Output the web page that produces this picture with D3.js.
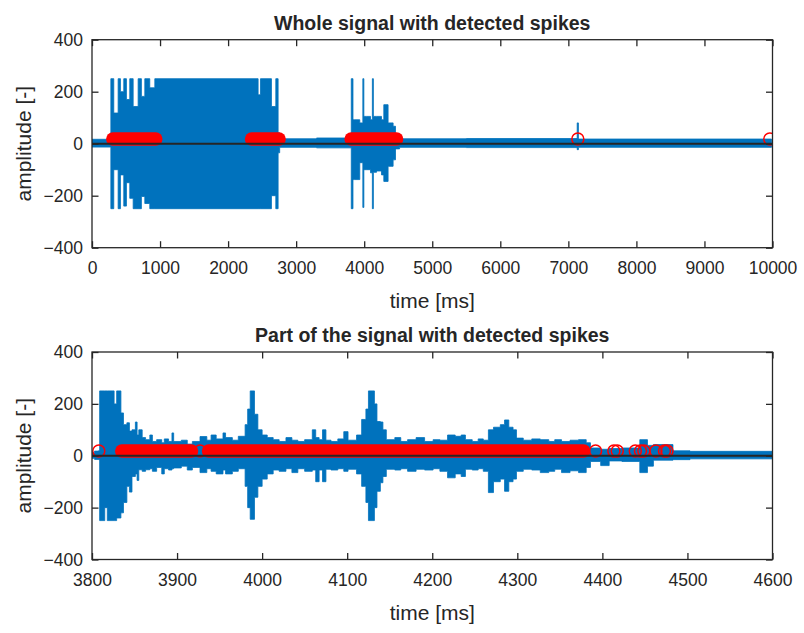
<!DOCTYPE html>
<html><head><meta charset="utf-8">
<script src="https://cdn.jsdelivr.net/npm/d3@7"></script>
<style>
body{margin:0;background:#fff}
svg{display:block}
text{font-family:"Liberation Sans",Arial,Helvetica,sans-serif;fill:#262626}
</style>
</head><body>
<svg id="c" width="804" height="633"></svg>
<script>
// ---------- DATA ----------
const titles = ["Whole signal with detected spikes", "Part of the signal with detected spikes"];
const xLabel = "time [ms]";
const yLabel = "amplitude [-]";
const wholeXTicks = [0,1000,2000,3000,4000,5000,6000,7000,8000,9000,10000];
const partXTicks = [3800,3900,4000,4100,4200,4300,4400,4500,4600];
const yTicks = [-400,-200,0,200,400];
const threshold = 18;

// whole signal envelope: [time ms, upper, lower] (step)
const wholeTime  = [0,277,320,384,418,467,506,555,605,678,726,776,849,923,2441,2476,2637,2701,2735,2758,3300,3810,3835,3862,3935,3980,3995,4034,4093,4120,4135,4181,4254,4288,4351,4425,4460,4520,5500,7130,7148,9985];
const wholeUpper = [17,250,118,250,200,250,170,250,143,250,182,250,215,250,188,250,143,250,42,19,22,250,92,92,80,250,105,105,92,250,105,105,92,150,80,67,30,19,20,80,18,18];
const wholeLower = [-13,-250,-100,-250,-120,-240,-150,-210,-250,-250,-203,-230,-250,-250,-250,-250,-200,-250,-35,-14,-16,-250,-138,-138,-73,-245,-100,-100,-112,-250,-110,-105,-120,-145,-87,-62,-20,-14,-15,-23,-14,-14];
// detected spikes in whole signal: dense runs [start,end] and isolated times
const wholeSpikeRuns = [[306,937],[2345,2749],[3808,4476]];
const wholeSpikeTimes = [7139,9960];

// part of signal envelope (3800-4600 ms)
const partTime  = [3800,3803,3808,3809,3815,3818,3826,3829,3834,3837,3841,3844,3847,3851,3853,3855,3859,3863,3868,3871,3876,3882,3885,3890,3894,3896,3905,3912,3918,3927,3935,3940,3946,3954,3957,3965,3972,3980,3983,3986,3991,3995,4000,4006,4013,4020,4028,4035,4042,4050,4059,4063,4067,4071,4075,4081,4089,4096,4101,4111,4117,4122,4125,4132,4135,4139,4142,4146,4156,4163,4171,4181,4191,4201,4209,4218,4227,4234,4239,4247,4254,4260,4266,4272,4280,4285,4290,4295,4299,4307,4317,4327,4337,4344,4352,4362,4372,4381,4386,4398,4408,4423,4444,4453,4460,4483,4503,4600];
const partUpper = [12,18,20,250,250,250,200,250,165,120,127,95,100,130,80,100,70,62,80,55,62,50,65,55,88,55,60,45,55,74,60,80,65,88,70,60,75,120,180,250,160,100,80,70,62,55,70,60,55,62,100,70,62,100,60,55,65,93,60,80,140,180,250,200,132,130,100,62,70,55,62,70,55,62,60,80,75,80,62,55,65,60,100,110,120,138,110,100,68,60,65,62,55,62,55,60,62,50,30,25,28,30,62,40,43,19,17,17];
const partLower = [-10,-14,-15,-250,-200,-250,-250,-240,-220,-180,-118,-140,-80,-70,-95,-54,-60,-54,-50,-60,-45,-70,-50,-55,-50,-47,-40,-55,-45,-65,-50,-60,-70,-55,-70,-60,-50,-118,-200,-245,-160,-118,-90,-70,-55,-60,-50,-65,-50,-60,-55,-100,-55,-100,-52,-55,-50,-60,-52,-70,-118,-180,-250,-200,-137,-104,-80,-52,-55,-50,-60,-52,-55,-50,-60,-85,-70,-80,-52,-55,-50,-60,-142,-100,-90,-137,-100,-90,-60,-52,-55,-65,-60,-52,-65,-58,-65,-45,-22,-38,-20,-22,-65,-40,-17,-15,-12,-12];
const partSpikeRuns = [[3835,3917],[3937,4378]];
const partSpikeTimes = [3808,3927,4392,4413.5,4417.5,4438.7,4444.8,4448.8,4462.9,4473,4476];

// ---------- DRAW ----------
const svg = d3.select("#c");
const left = 92, right = 772.5;
const blue = "#0072BD", frame = "#262626";

function panel(cfg){
  const g = svg.append("g");
  const x = d3.scaleLinear().domain(cfg.xDomain).range([left,right]);
  const y = d3.scaleLinear().domain([-400,400]).range([cfg.bottom,cfg.top]);

  const data = cfg.time.map((t,i)=>({t,hi:cfg.upper[i],lo:cfg.lower[i]}));
  const area = d3.area().curve(d3.curveStepAfter)
    .x(d=>x(d.t)).y0(d=>y(d.lo)).y1(d=>y(d.hi));
  const clipId = "clip"+cfg.id;
  svg.append("clipPath").attr("id",clipId).append("rect")
    .attr("x",left).attr("y",cfg.top).attr("width",right-left).attr("height",cfg.bottom-cfg.top);
  const plot = g.append("g").attr("clip-path",`url(#${clipId})`);
  plot.append("path").datum(data).attr("d",area).attr("fill",blue).attr("stroke",blue).attr("stroke-width",0.8);

  // detected spikes: dense runs as overlapping circles, isolated as circles
  const r = 6;
  plot.selectAll(".run").data(cfg.runs).join("line")
    .attr("x1",d=>x(d[0])).attr("x2",d=>x(d[1]))
    .attr("y1",y(threshold)).attr("y2",y(threshold))
    .attr("stroke","#FF0000").attr("stroke-width",2*r+1.5).attr("stroke-linecap","round");
  plot.selectAll(".pt").data(cfg.points).join("circle")
    .attr("cx",d=>x(d)).attr("cy",y(threshold)).attr("r",r)
    .attr("fill","none").attr("stroke","#FF0000").attr("stroke-width",1.5);

  // zero line
  plot.append("line").attr("x1",left).attr("x2",right)
    .attr("y1",y(0)).attr("y2",y(0)).attr("stroke",frame).attr("stroke-width",2);

  // axes
  const tl = 6.5;
  const ax = g.append("g").attr("transform",`translate(0,${cfg.bottom})`)
    .call(d3.axisBottom(x).tickValues(cfg.xTicks).tickSizeInner(-tl).tickSizeOuter(0).tickPadding(14).tickFormat(d3.format("d")));
  const axT = g.append("g").attr("transform",`translate(0,${cfg.top})`)
    .call(d3.axisTop(x).tickValues(cfg.xTicks).tickSizeInner(-tl).tickSizeOuter(0).tickFormat(""));
  const ay = g.append("g").attr("transform",`translate(${left},0)`)
    .call(d3.axisLeft(y).tickValues(yTicks).tickSizeInner(-tl).tickSizeOuter(0).tickPadding(9).tickFormat(d3.format("d")));
  const ayR = g.append("g").attr("transform",`translate(${right},0)`)
    .call(d3.axisRight(y).tickValues(yTicks).tickSizeInner(-tl).tickSizeOuter(0).tickFormat(""));
  [ax,axT,ay,ayR].forEach(a=>{
    a.select(".domain").remove();
    a.selectAll(".tick line").attr("stroke",frame).attr("stroke-width",1.3);
    a.selectAll("text").attr("font-size",17.5).attr("fill",frame).attr("font-family",null);
  });
  ax.selectAll("text").attr("dy","0.71em");
  g.append("rect").attr("x",left).attr("y",cfg.top).attr("width",right-left).attr("height",cfg.bottom-cfg.top)
    .attr("fill","none").attr("stroke",frame).attr("stroke-width",1.3);

  // titles & labels
  g.append("text").attr("x",(left+right)/2).attr("y",cfg.top-10).attr("text-anchor","middle")
    .attr("font-size",19.5).attr("font-weight","bold").attr("fill","#000").text(cfg.title);
  g.append("text").attr("x",(left+right)/2).attr("y",cfg.bottom+60).attr("text-anchor","middle")
    .attr("font-size",21).text(xLabel);
  g.append("text").attr("transform",`translate(31,${(cfg.top+cfg.bottom)/2}) rotate(-90)`)
    .attr("text-anchor","middle").attr("font-size",21).text(yLabel);
}

panel({id:1,title:titles[0],xDomain:[0,10000],xTicks:wholeXTicks,top:39.7,bottom:247.7,
  time:wholeTime,upper:wholeUpper,lower:wholeLower,runs:wholeSpikeRuns,points:wholeSpikeTimes});
panel({id:2,title:titles[1],xDomain:[3800,4600],xTicks:partXTicks,top:352,bottom:559.5,
  time:partTime,upper:partUpper,lower:partLower,runs:partSpikeRuns,points:partSpikeTimes});
</script>
</body></html>
